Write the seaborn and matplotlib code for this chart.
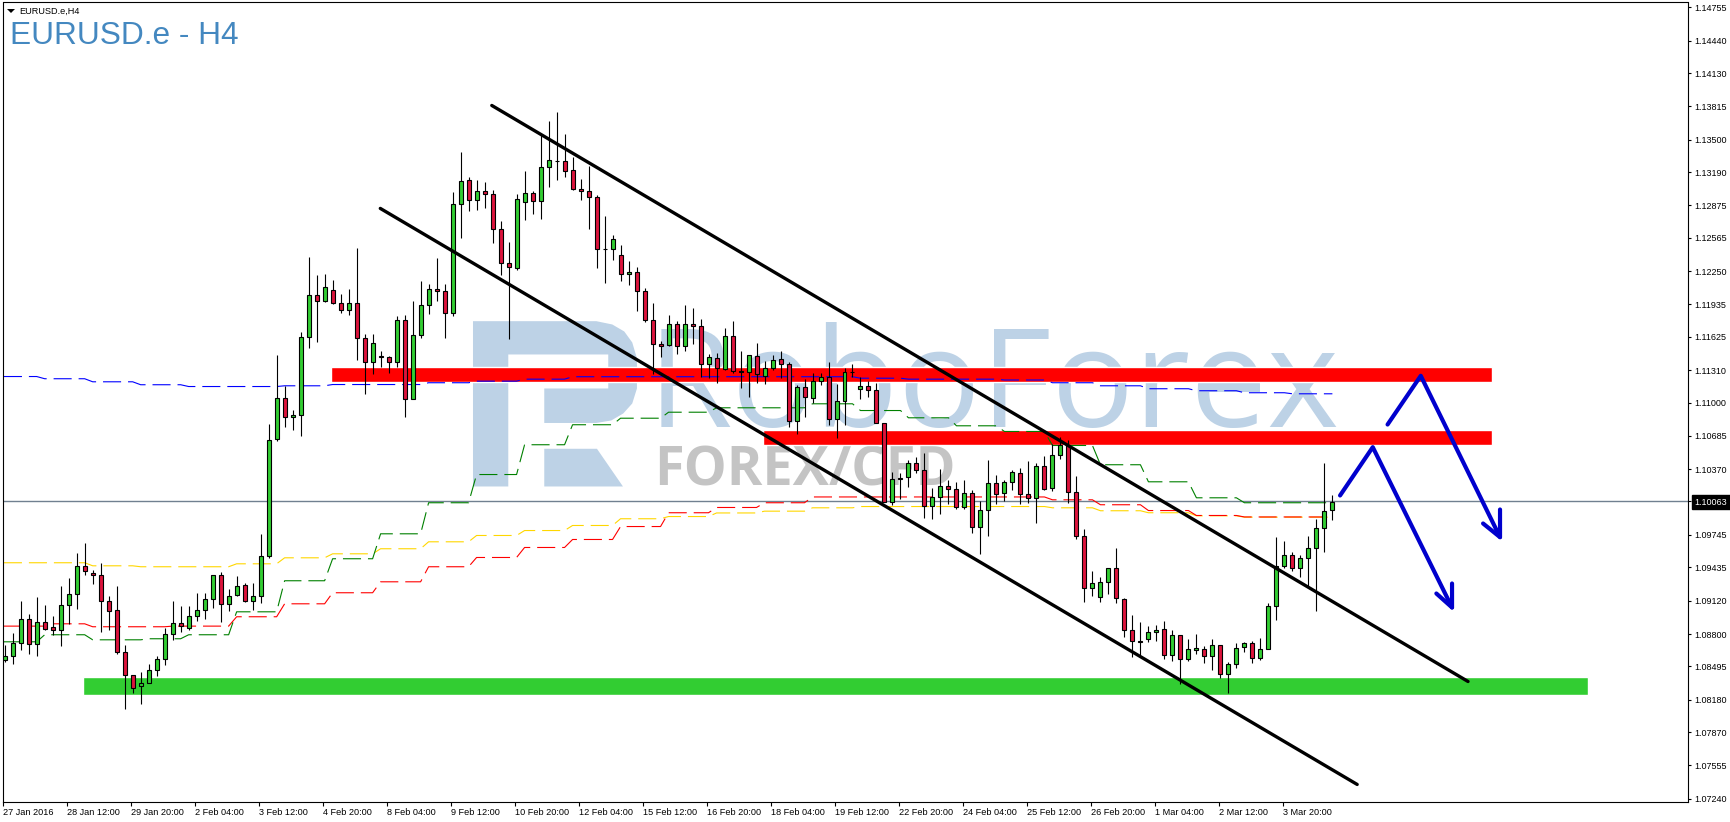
import numpy as np
import matplotlib
matplotlib.use('Agg')
import matplotlib.pyplot as plt
from matplotlib.patches import Polygon
import seaborn as sns

# H4 candles
highs = [1.08701,1.08815,1.09119,1.08995,1.09157,1.09074,1.08970,1.09261,1.09331,1.09575,
         1.09670,1.09413,1.09480,1.09166,1.09255,1.08701,1.08416,1.08444,1.08520,1.08596,
         1.08862,1.09119,1.09065,1.09071,1.09188,1.09195,1.09366,1.09394,1.09233,1.09356,
         1.09290,1.09290,1.09755,1.10800,1.11455,1.11160,1.10932,1.11673,1.12386,1.12215,
         1.12224,1.12167,1.12034,1.12082,1.12471,1.11654,1.11654,1.11493,1.11445,1.11828,
         1.11835,1.11971,1.12158,1.12129,1.12376,1.12129,1.13003,1.13383,1.13146,1.13117,
         1.13098,1.13022,1.12728,1.12528,1.12984,1.13203,1.13013,1.13545,1.13678,1.13763,
         1.13554,1.13336,1.13127,1.13250,1.12975,1.12775,1.12595,1.12500,1.12348,1.12291,
         1.12091,1.11949,1.11588,1.11835,1.11778,1.11930,1.11901,1.11797,1.11464,1.11474,
         1.11711,1.11781,1.11493,1.11455,1.11569,1.11398,1.11455,1.11493,1.11388,1.11170,
         1.11227,1.11284,1.11284,1.11388,1.11179,1.11331,1.11369,1.11246,1.11208,1.11189,
         1.10809,1.10343,1.10334,1.10457,1.10489,1.10524,1.10191,1.10372,1.10267,1.10248,
         1.10267,1.10172,1.10068,1.10457,1.10315,1.10267,1.10362,1.10381,1.10451,1.10429,
         1.10498,1.10609,1.10676,1.10647,1.10305,1.09802,1.09403,1.09346,1.09431,1.09621,
         1.09146,1.08985,1.08918,1.08880,1.08890,1.08928,1.08842,1.08795,1.08757,1.08804,
         1.08690,1.08757,1.08700,1.08535,1.08719,1.08728,1.08734,1.08766,1.09099,1.09726,
         1.09688,1.09583,1.09555,1.09735,1.09897,1.10429,1.10125]
lows = [1.08536,1.08517,1.08647,1.08609,1.08593,1.08843,1.08796,1.08685,1.08900,1.09036,
        1.09366,1.09277,1.08821,1.08840,1.08612,1.08089,1.08238,1.08137,1.08340,1.08403,
        1.08504,1.08745,1.08821,1.08840,1.08929,1.08944,1.09046,1.08916,1.09017,1.09163,
        1.09106,1.09027,1.09097,1.09524,1.10641,1.10767,1.10739,1.10688,1.11521,1.11575,
        1.11958,1.11939,1.11854,1.11835,1.11407,1.11084,1.11274,1.11337,1.11284,1.11337,
        1.10862,1.11037,1.11616,1.11844,1.11971,1.11616,1.11825,1.12566,1.12823,1.12832,
        1.12851,1.12519,1.12215,1.11607,1.12262,1.12737,1.12794,1.12747,1.13051,1.13117,
        1.13146,1.13022,1.12927,1.12652,1.12281,1.12139,1.12357,1.12158,1.12120,1.11873,
        1.11768,1.11274,1.11436,1.11540,1.11464,1.11493,1.11559,1.11243,1.11236,1.11189,
        1.11312,1.11284,1.11138,1.11053,1.11189,1.11179,1.11312,1.11236,1.10768,1.10704,
        1.10863,1.10996,1.11170,1.10790,1.10666,1.10790,1.11246,1.11037,1.11056,1.10809,
        1.10058,1.10030,1.10087,1.10197,1.10337,1.09906,1.09897,1.09944,1.10039,1.09992,
        1.09992,1.09764,1.09564,1.09735,1.10039,1.10068,1.10172,1.10039,1.10049,1.09859,
        1.10172,1.10163,1.10467,1.10049,1.09707,1.09108,1.09162,1.09108,1.09184,1.09099,
        1.08772,1.08582,1.08605,1.08725,1.08741,1.08563,1.08544,1.08329,1.08544,1.08614,
        1.08525,1.08462,1.08386,1.08240,1.08481,1.08633,1.08525,1.08557,1.08662,1.08937,
        1.09431,1.09403,1.09342,1.09247,1.09023,1.09580,1.09890]
opens = [1.08555,1.08593,1.08720,1.08948,1.08707,1.08919,1.08872,1.08840,1.09081,1.09185,
         1.09451,1.09385,1.09366,1.09119,1.09033,1.08634,1.08416,1.08311,1.08340,1.08463,
         1.08568,1.08805,1.08910,1.08862,1.08976,1.09033,1.09138,1.09366,1.09090,1.09176,
         1.09271,1.09119,1.09166,1.09546,1.10657,1.11046,1.10866,1.10885,1.11626,1.12025,
         1.11968,1.12072,1.11949,1.11882,1.11949,1.11616,1.11388,1.11445,1.11436,1.11388,
         1.11787,1.11037,1.11645,1.11930,1.12082,1.12063,1.11854,1.12889,1.13117,1.12927,
         1.13013,1.12984,1.12652,1.12329,1.12281,1.12908,1.12994,1.12918,1.13241,1.13298,
         1.13298,1.13212,1.13032,1.13013,1.12956,1.12462,1.12462,1.12405,1.12224,1.12243,
         1.12063,1.11787,1.11559,1.11550,1.11749,1.11540,1.11749,1.11733,1.11369,1.11426,
         1.11322,1.11635,1.11303,1.11293,1.11445,1.11255,1.11331,1.11417,1.11369,1.10828,
         1.11151,1.11046,1.11208,1.11246,1.10847,1.11018,1.11293,1.11132,1.11160,1.11122,
         1.10809,1.10058,1.10286,1.10296,1.10429,1.10362,1.10020,1.10106,1.10210,1.10182,
         1.10011,1.10144,1.09821,1.09982,1.10239,1.10144,1.10248,1.10334,1.10134,1.10096,
         1.10400,1.10191,1.10505,1.10600,1.10153,1.09735,1.09241,1.09156,1.09298,1.09431,
         1.09137,1.08842,1.08738,1.08757,1.08823,1.08852,1.08605,1.08795,1.08567,1.08652,
         1.08662,1.08595,1.08700,1.08424,1.08519,1.08681,1.08719,1.08576,1.08662,1.09070,
         1.09450,1.09555,1.09431,1.09526,1.09621,1.09811,1.09982]
closes = [1.08596,1.08720,1.08948,1.08707,1.08919,1.08853,1.08840,1.09081,1.09185,1.09451,
          1.09401,1.09366,1.09119,1.09024,1.08634,1.08416,1.08292,1.08340,1.08463,1.08568,
          1.08805,1.08910,1.08875,1.08976,1.09033,1.09138,1.09366,1.09090,1.09166,1.09261,
          1.09119,1.09166,1.09546,1.10648,1.11046,1.10866,1.10885,1.11626,1.12025,1.11968,
          1.12101,1.11949,1.11882,1.11949,1.11616,1.11388,1.11569,1.11436,1.11388,1.11787,
          1.11037,1.11645,1.11930,1.12082,1.12063,1.11854,1.12889,1.13108,1.12927,1.13013,
          1.12984,1.12652,1.12329,1.12291,1.12937,1.12994,1.12918,1.13241,1.13307,1.13298,
          1.13203,1.13032,1.13013,1.12956,1.12462,1.12462,1.12557,1.12224,1.12243,1.12063,
          1.11787,1.11559,1.11540,1.11749,1.11540,1.11749,1.11730,1.11369,1.11436,1.11331,
          1.11635,1.11303,1.11293,1.11455,1.11274,1.11331,1.11407,1.11369,1.10828,1.11151,
          1.11056,1.11208,1.11246,1.10847,1.11018,1.11293,1.11293,1.11160,1.11122,1.10809,
          1.10058,1.10277,1.10277,1.10429,1.10362,1.10020,1.10106,1.10210,1.10182,1.10011,
          1.10144,1.09821,1.09982,1.10239,1.10134,1.10248,1.10343,1.10134,1.10096,1.10400,
          1.10182,1.10505,1.10600,1.10153,1.09735,1.09241,1.09289,1.09298,1.09431,1.09146,
          1.08842,1.08738,1.08728,1.08823,1.08842,1.08605,1.08795,1.08567,1.08662,1.08671,
          1.08595,1.08700,1.08424,1.08519,1.08671,1.08719,1.08576,1.08662,1.09070,1.09450,
          1.09555,1.09431,1.09526,1.09621,1.09811,1.09973,1.10058]

# stepped indicators: the bar where each level starts, and the level
blue_bars = [-0.1,5,11,17,23,35,41,53,59,65,71,107,113,125,131,137,143,149,155,161,167]
blue_levels = [1.11249,1.11228,1.11199,1.11171,1.11154,1.11161,1.11173,1.11190,1.11205,1.11224,
               1.11247,1.11233,1.11224,1.11216,1.11190,1.11161,1.11133,1.11114,1.11095,1.11085]
green_bars = [-0.1,5,11,18,23,29,35,41,47,53,59,65,71,77,83,89,101,107,113,119,125,131,137,143,149,155,167]
green_levels = [1.08729,1.08796,1.08748,1.08758,1.08796,1.09014,1.09309,1.09518,1.09755,1.10050,
                1.10318,1.10601,1.10791,1.10853,1.10910,1.10952,1.10990,1.10926,1.10857,1.10781,
                1.10727,1.10594,1.10411,1.10249,1.10097,1.10050]
red_bars = [-0.1,6,11,21,29,35,41,47,53,59,65,71,77,83,89,95,101,131,137,143,149,155,167]
red_levels = [1.08878,1.08900,1.08872,1.08878,1.08967,1.09090,1.09195,1.09299,1.09442,1.09530,
              1.09625,1.09701,1.09824,1.09955,1.10005,1.10050,1.10105,1.10078,1.10031,1.09976,
              1.09929,1.09915]
yellow_bars = [-0.1,11,17,29,35,41,47,53,59,65,71,77,83,89,95,101,107,131,137,143,149,155,167]
yellow_levels = [1.09480,1.09451,1.09442,1.09470,1.09527,1.09565,1.09613,1.09679,1.09739,1.09786,
                 1.09834,1.09898,1.09919,1.09953,1.09970,1.10002,1.10014,1.10002,1.09974,1.09955,
                 1.09926,1.09913]

# drawn objects on the chart
zone_start = [40.75, 94.75, 9.75]
zone_end = [185.9, 185.9, 198]
zone_low = [1.11193, 1.10594, 1.08228]
zone_high = [1.11335, 1.10737, 1.08390]
zone_colors = ['#ff0000', '#ff0000', '#32cd32']

upper_bars = [60.9, 182.96]
upper_prices = [1.13824, 1.08352]
lower_bars = [46.96, 169.1]
lower_prices = [1.12846, 1.07374]

arrow1_bars = [166.96, 171.05, 180.96]
arrow1_prices = [1.10119, 1.10578, 1.09055]
arrow1_head_bars = [180.96, 180.96, 179.0]
arrow1_head_prices = [1.09283, 1.09055, 1.09188]
arrow2_bars = [172.9, 177.05, 186.96]
arrow2_prices = [1.10793, 1.11256, 1.09723]
arrow2_head_bars = [186.96, 186.96, 184.84]
arrow2_head_prices = [1.09986, 1.09723, 1.09853]

last_price = 1.10063
price_ticks = [1.14755,1.14440,1.14130,1.13815,1.13500,1.13190,1.12875,1.12565,1.12250,1.11935,
               1.11625,1.11310,1.11000,1.10685,1.10370,1.10063,1.09745,1.09435,1.09120,1.08800,
               1.08495,1.08180,1.07870,1.07555,1.07240]
time_labels = ['27 Jan 2016','28 Jan 12:00','29 Jan 20:00','2 Feb 04:00','3 Feb 12:00','4 Feb 20:00',
               '8 Feb 04:00','9 Feb 12:00','10 Feb 20:00','12 Feb 04:00','15 Feb 12:00','16 Feb 20:00',
               '18 Feb 04:00','19 Feb 12:00','22 Feb 20:00','24 Feb 04:00','25 Feb 12:00','26 Feb 20:00',
               '1 Mar 04:00','2 Mar 12:00','3 Mar 20:00']

W, H = 1730, 822
sns.set_theme(style='white')
plt.rcParams['font.family'] = ['Liberation Sans', 'DejaVu Sans']
plt.rcParams['lines.scale_dashes'] = False
plt.rcParams['axes.linewidth'] = 0.8
plt.rcParams['axes.edgecolor'] = 'black'

fig = plt.figure(figsize=(W / 100, H / 100), dpi=100, facecolor='white')
ax = fig.add_axes([3.5 / W, 1 - 801.5 / H, 1684 / W, 799 / H])
ax.set_xlim(-0.1, 210.4)
ax.set_ylim(1.07212, 1.14802)


# screen pixels of the reference to chart coordinates, for the watermark only
def px(points):
    return [((x - 4.3) / 8, 1.14755 - (y - 7) * 0.000095) for x, y in points]


# watermark
mark_blue = '#bdd2e6'
bowl = [(472.7, 320.7), (596, 320.7), (612, 324), (624, 331), (632, 342), (636.7, 358), (636.7, 388),
        (632, 403), (623, 413), (611, 420), (596, 422.5), (544, 422.5), (544, 388), (608, 388),
        (608, 354), (508, 354), (508, 486), (472.7, 486)]
leg = [(544, 448.3), (596.7, 448.3), (622.7, 486), (544, 486)]
ax.add_patch(Polygon(px(bowl), closed=True, facecolor=mark_blue, edgecolor='none', zorder=0))
ax.add_patch(Polygon(px(leg), closed=True, facecolor=mark_blue, edgecolor='none', zorder=0))
wx, wy = px([(647, 426.7)])[0]
ax.text(wx, wy, 'RoboForex', family='Open Sans', fontsize=98.8, color=mark_blue, ha='left', va='baseline', zorder=0)
wx, wy = px([(653.5, 485)])[0]
ax.text(wx, wy, 'FOREX/CFD', family='Open Sans', fontweight='bold', fontsize=39, color='#c4c4c4',
        ha='left', va='baseline', zorder=0.5)

# support and resistance zones
ax.barh(y=(np.array(zone_low) + np.array(zone_high)) / 2, width=np.array(zone_end) - np.array(zone_start),
        height=np.array(zone_high) - np.array(zone_low), left=zone_start, color=zone_colors, zorder=1)

ax.axhline(last_price, color='#708090', lw=1.0, zorder=1.5)


def steps(bars, levels):
    xs, ys = [], []
    for k, level in enumerate(levels):
        xs += [bars[k], bars[k + 1] - 1]
        ys += [level, level]
    return xs, ys


# indicator lines
for bars, levels, color in [(yellow_bars, yellow_levels, '#ffd700'), (red_bars, red_levels, '#ff0000'),
                            (green_bars, green_levels, '#008000'), (blue_bars, blue_levels, '#0000ff')]:
    xs, ys = steps(bars, levels)
    sns.lineplot(x=xs, y=ys, ax=ax, color=color, linewidth=0.8, sort=False, estimator=None,
                 linestyle=(0, (13, 5)), zorder=2)

# candles
idx = np.arange(len(opens))
o = np.array(opens)
c = np.array(closes)
ax.vlines(idx, lows, highs, color='black', lw=0.8, zorder=3)
body_colors = np.where(c >= o, '#32cd32', '#dc143c')
ax.bar(idx, np.abs(c - o), bottom=np.minimum(o, c), width=0.5, color=body_colors,
       edgecolor='black', linewidth=0.8, zorder=4)

# channel and forecast arrows
for bars, prices in [(upper_bars, upper_prices), (lower_bars, lower_prices)]:
    sns.lineplot(x=bars, y=prices, ax=ax, color='black', linewidth=2.4, sort=False, estimator=None, zorder=5)
for bars, prices in [(arrow1_bars, arrow1_prices), (arrow1_head_bars, arrow1_head_prices),
                     (arrow2_bars, arrow2_prices), (arrow2_head_bars, arrow2_head_prices)]:
    sns.lineplot(x=bars, y=prices, ax=ax, color='#0000cd', linewidth=3.0, sort=False, estimator=None, zorder=6)

# axes
ax.yaxis.tick_right()
ax.set_yticks(price_ticks)
ax.set_yticklabels([f'{p:.5f}' for p in price_ticks])
ax.set_xticks([-0.15 + 8 * k for k in range(len(time_labels))])
ax.set_xticklabels(time_labels, ha='left')
ax.tick_params(axis='y', length=2.5, width=0.8, pad=2.5, labelsize=6.5, colors='black', right=True)
ax.tick_params(axis='x', length=3, width=0.8, pad=1.5, labelsize=6.6, colors='black', bottom=True)
for lab in ax.get_yticklabels():
    if lab.get_text() == f'{last_price:.5f}':
        lab.set_color('white')
        lab.set_bbox(dict(facecolor='black', edgecolor='black', pad=1.8))
ax.set_xlabel('')
ax.set_ylabel('')
ax.grid(False)

# titles
fig.text(19 / W, 1 - 14 / H, 'EURUSD.e,H4', fontsize=6.6, color='black')
fig.text(10 / W, 1 - 44 / H, 'EURUSD.e - H4', fontsize=22.8, color='#4488c0')
fig.add_artist(Polygon([(7 / W, 1 - 9 / H), (15 / W, 1 - 9 / H), (11 / W, 1 - 13 / H)], closed=True,
                       facecolor='black', edgecolor='none', transform=fig.transFigure))

fig.savefig('out.png', dpi=100)
plt.close()
